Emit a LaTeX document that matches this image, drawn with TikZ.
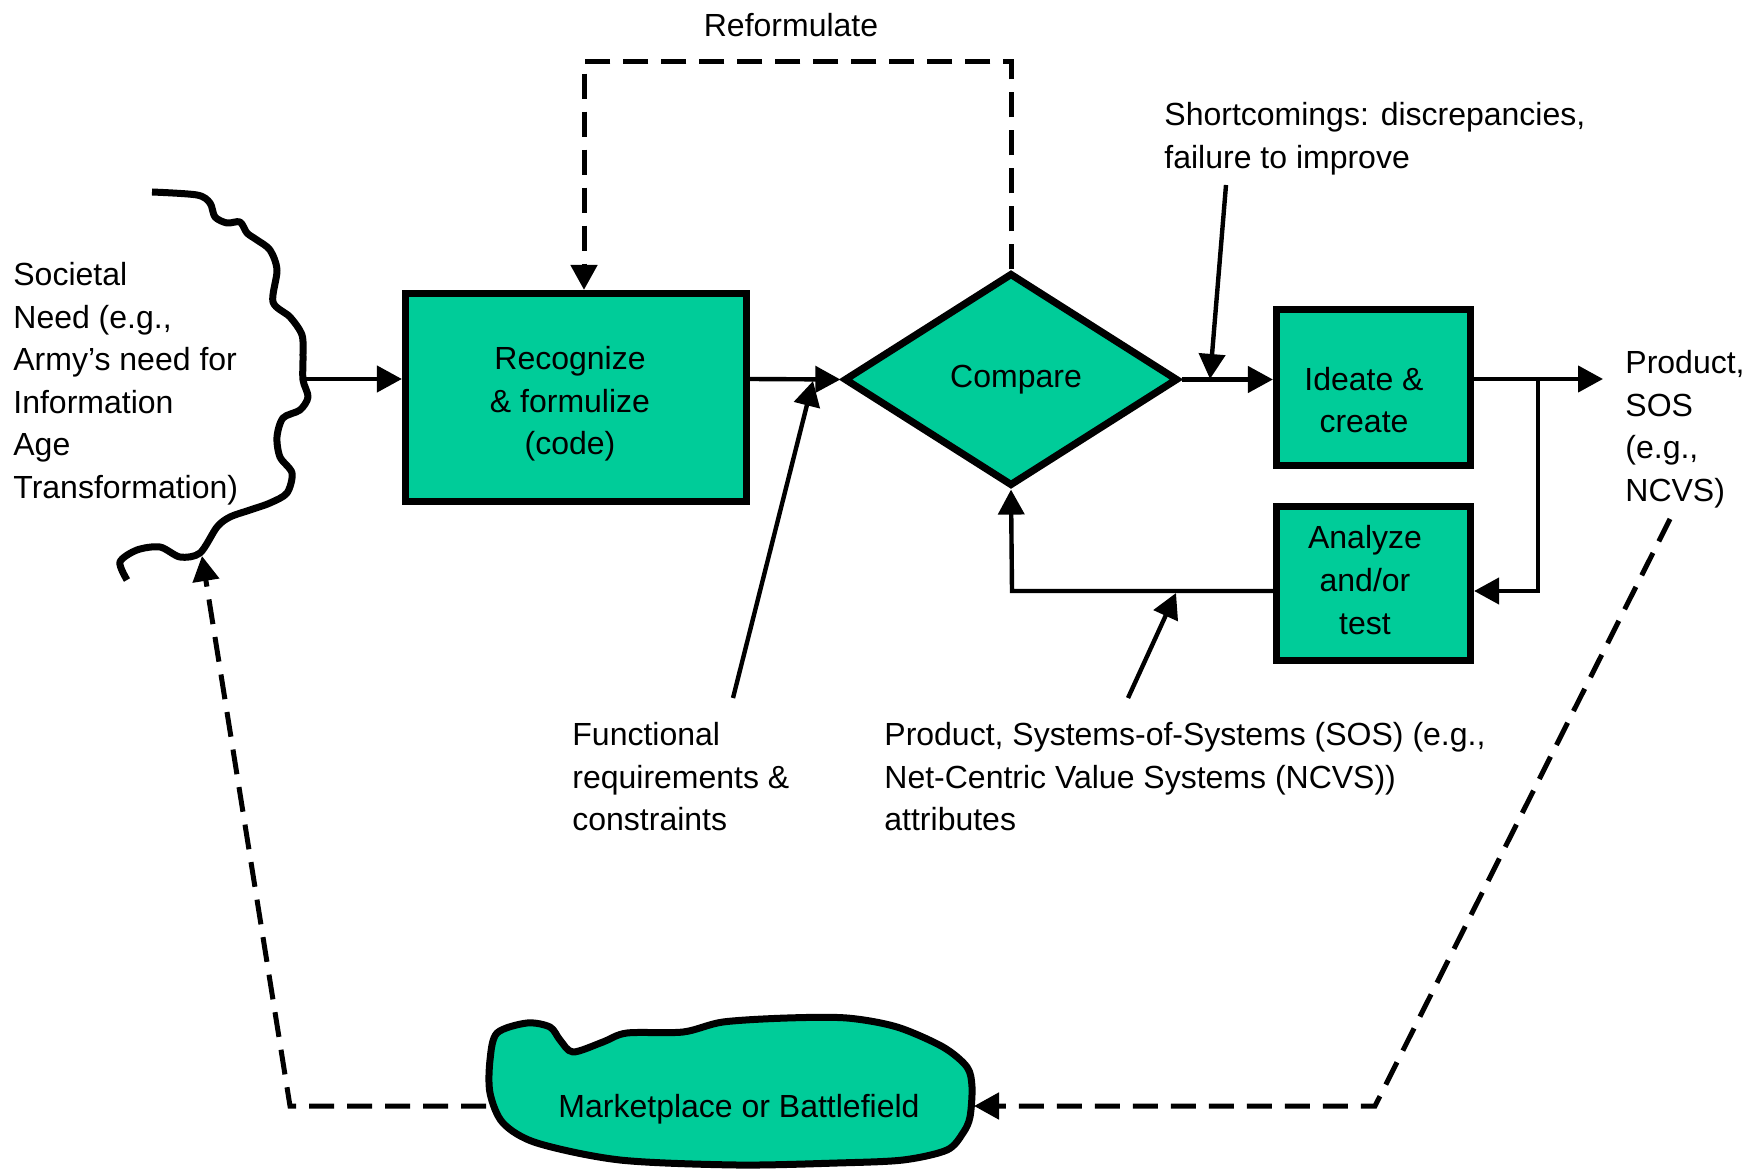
\documentclass[tikz,border=0pt]{standalone}
\usepackage{fontspec}
\setmainfont{Liberation Sans}
\usetikzlibrary{arrows.meta,shapes.geometric}
\definecolor{procgreen}{RGB}{0,204,153}

\begin{document}
\begin{tikzpicture}[x=0.5pt,y=-0.5pt,
  txt/.style={font=\fontsize{16}{21.3}\selectfont, inner sep=0pt, align=left},
  ctxt/.style={txt, align=center},
  procbox/.style={draw, line width=3.6pt, fill=procgreen, inner sep=0pt},
  tip/.style={-{Triangle[length=12.5pt,width=13pt]}},
  flow/.style={line width=2.2pt, tip},
  loopback/.style={line width=2.5pt, dash pattern=on 12.5pt off 6.5pt, tip},
  edge/.style={line width=3.5pt, line join=round}
]
\useasboundingbox (0,0) rectangle (1760,1176);

% process boxes and decision
\node[procbox, minimum width=170.5pt, minimum height=104pt] (rec) at (576,397.5) {};
\node[ctxt] (rectxt) at (570,404) {Recognize\\\& formulize\\(code)};
\node[draw, diamond, line width=3.6pt, fill=procgreen, inner sep=0pt,
      minimum width=167pt, minimum height=106.5pt,
      font=\fontsize{16}{21.3}\selectfont] (cmp) at (1011,379.5) {\hspace*{5pt}Compare};
\node[procbox, minimum width=97pt, minimum height=78pt] (ide) at (1373.5,387.5) {};
\node[ctxt] (idetxt) at (1364,400) {Ideate \&\\create};
\node[procbox, minimum width=97pt, minimum height=77pt] (ana) at (1373.5,583.5) {};
\node[ctxt] (anatxt) at (1365,580) {Analyze\\and/or\\test};

% societal need boundary (wavy edge)
\draw[edge] plot[smooth, tension=0.5] coordinates {
  (152,192) (197,195) (210,203) (215,217) (227,223) (240,222) (247,233)
  (257,240) (270,250) (277,270) (273,302) (290,317) (302,335) (303,357)
  (303,380) (308,397) (300,410) (283,418) (277,437) (280,457) (292,473)
  (287,493) (270,503) (250,510) (230,517) (217,527) (200,553) (180,557)
  (160,547) (137,550) (120,562) (127,580)};

% marketplace / battlefield blob
\draw[edge, fill=procgreen] plot[smooth cycle, tension=0.5] coordinates {
  (497,1033) (527,1023) (550,1027) (560,1040) (573,1052) (603,1042)
  (627,1033) (683,1032) (723,1022) (787,1018) (847,1018) (897,1027)
  (943,1047) (967,1067) (972,1087) (970,1117) (963,1133) (947,1150)
  (903,1160) (837,1163) (737,1165) (620,1160) (537,1143) (503,1123)
  (490,1093) (490,1060)};
\node[txt] (mkt) at (739,1109) {Marketplace or Battlefield};

% labels
\node[ctxt] (reform) at (791,25) {Reformulate};
\node[txt, anchor=north west] (soc) at (13,262)
  {Societal\\Need (e.g.,\\Army’s need for\\Information\\Age\\Transformation)};
\node[txt, anchor=north west] (short) at (1164,102)
  {Shortcomings: discrepancies,\\failure to improve};
\node[txt, anchor=north west] (func) at (572,722)
  {Functional\\requirements \&\\constraints};
\node[txt, anchor=north west] (attr) at (884,722)
  {Product, Systems-of-Systems (SOS) (e.g.,\\Net-Centric Value Systems (NCVS))\\attributes};
\node[txt, anchor=north west] (prod) at (1625,350)
  {Product,\\SOS\\(e.g.,\\NCVS)};

% connection points
\coordinate (wv) at (303,379);
\coordinate (br) at (1538,379);
\coordinate (outp) at (1603,379);
\coordinate (fb) at (1538,591);
\coordinate (fbl) at (1012,591);
\coordinate (top) at (584,62);
\coordinate (sct) at (1226,185);
\coordinate (sch) at (1210,379);
\coordinate (frt) at (733,698);
\coordinate (frh) at (813,381);
\coordinate (att) at (1128,698);
\coordinate (ath) at (1176,593);
\coordinate (pd) at (1670,519);
\coordinate (pdk) at (1375,1106);
\coordinate (mkE) at (974,1106);
\coordinate (mkW) at (486,1106);
\coordinate (sk) at (290,1106);
\coordinate (sn) at (202,556);

% main flow
\draw[flow] (wv) -- (wv -| rec.west);
\draw[flow] (rec.east |- wv) -- (cmp.west);
\draw[flow] (cmp.east) -- (cmp.east -| ide.west);
\draw[flow] (ide.east |- wv) -- (outp);
\draw[flow] (br) -- (fb) -- (fb -| ana.east);
\draw[flow] (fb -| ana.west) -- (fbl) -- (cmp.south);

% inputs
\draw[flow] (sct) -- (sch);
\draw[flow] (frt) -- (frh);
\draw[flow] (att) -- (ath);

% dashed loops
\draw[loopback] (cmp.north) |- (top) -- (top |- rec.north);
\draw[loopback] (pd) -- (pdk) -- (mkE);
\draw[loopback] (mkW) -- (sk) -- (sn);
\end{tikzpicture}
\end{document}
